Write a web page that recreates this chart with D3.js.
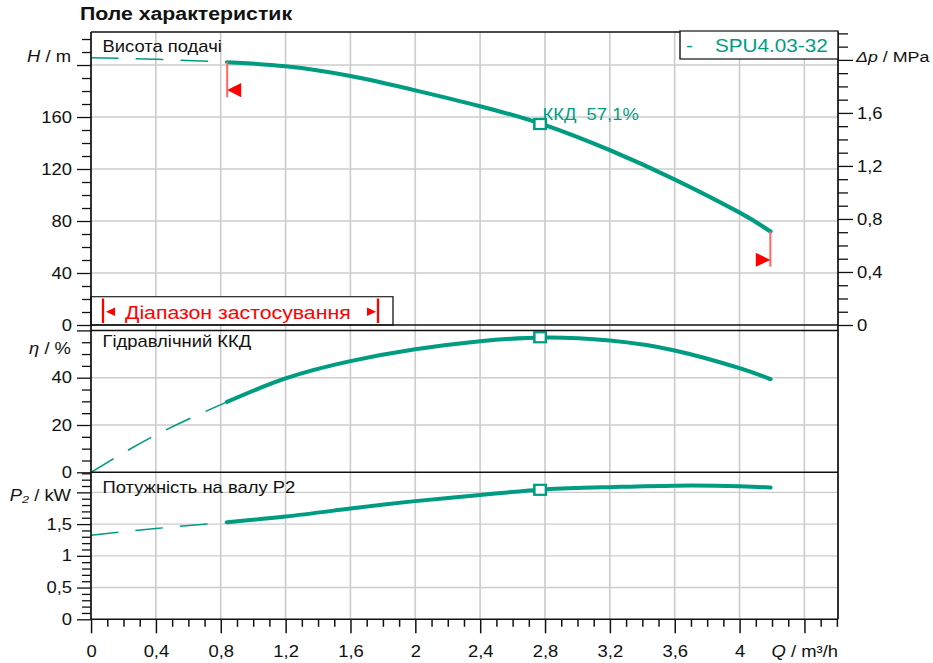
<!DOCTYPE html>
<html><head><meta charset="utf-8">
<script src="https://cdn.jsdelivr.net/npm/d3@7"></script>
<style>
html,body{margin:0;padding:0;background:#fff;}
svg{display:block;font-family:'Liberation Sans',Arial,sans-serif;}
</style></head>
<body>
<svg id="chart" width="933" height="663"></svg>
<script>
// ---------- data ----------
const qSolid = [0.84, 1.2, 1.6, 2.0, 2.4, 2.8, 3.2, 3.6, 4.0, 4.19];
const headSolid = [202.2, 199.0, 191.5, 180.5, 168.3, 153.8, 134.5, 112.0, 86.5, 72.0];
const effSolid = [29.8, 39.7, 47.0, 52.0, 55.4, 57.0, 55.7, 51.5, 44.0, 39.4];
const powSolid = [1.53, 1.62, 1.745, 1.862, 1.96, 2.045, 2.082, 2.105, 2.097, 2.075];
const qDash = [0, 0.4, 0.84];
const headDash = [205.5, 204.4, 202.2];
const effDash = [0, 15.8, 29.8];
const powDash = [1.325, 1.43, 1.53];
const dutyQ = 2.77, dutyH = 154.6, dutyEff = 57.1, dutyPow = 2.04;
const rangeMin = 0.84, rangeMax = 4.19;
const qMajor = [0, 0.4, 0.8, 1.2, 1.6, 2, 2.4, 2.8, 3.2, 3.6, 4, 4.4];
const qLabels = ["0","0,4","0,8","1,2","1,6","2","2,4","2,8","3,2","3,6","4",""];
const hMajor = [0, 40, 80, 120, 160, 200];
const hLabels = ["0","40","80","120","160",""];
const pMajor = [0, 0.4, 0.8, 1.2, 1.6, 2.0];
const pLabels = ["0","0,4","0,8","1,2","1,6",""];
const eMajor = [0, 20, 40, 60];
const eLabels = ["0","20","40",""];
const wMajor = [0, 0.5, 1, 1.5, 2];
const wLabels = ["0","0,5","1","1,5",""];
const legendName = "SPU4.03-32";

// ---------- layout ----------
const K = 1.15;               // horizontal stretch of the reference
const X = v => v / K;
const teal = "#009c82", grid = "#cccccc", red = "#ff0000";
const L = 91, R = 838, T = 32;
const svg = d3.select("#chart");
const g = svg.append("g").attr("transform", `scale(${K},1)`);

const x = d3.scaleLinear([0, 4.6], [X(91), X(836.8)]);
const yH = d3.scaleLinear([0, 225.4], [325, T]);
const yP = d3.scaleLinear([0, 225.4 / 101.97], [325, T]);
const yE = d3.scaleLinear([0, 60], [472.3, 330.4]);
const yW = d3.scaleLinear([0, 2.316], [619.3, 472.3]);

// grid
const gg = g.append("g").attr("stroke", grid).attr("stroke-width", 1.4);
qMajor.slice(1).forEach(q => gg.append("line").attr("x1", x(q)).attr("x2", x(q)).attr("y1", T).attr("y2", 619.3));
const hgrid = (sc, vals) => vals.forEach(v => gg.append("line").attr("x1", X(L)).attr("x2", X(R)).attr("y1", sc(v)).attr("y2", sc(v)));
hgrid(yH, [40, 80, 120, 160, 200]);
hgrid(yE, [20, 40]);
hgrid(yW, [0.5, 1, 1.5, 2]);

// curves
const line = (sc) => d3.line().x(d => x(d[0])).y(d => sc(d[1])).curve(d3.curveNatural);
function curve(qs, vs, sc, dashed) {
  g.append("path").datum(qs.map((q, i) => [q, vs[i]]))
    .attr("d", line(sc)).attr("fill", "none").attr("stroke", teal)
    .attr("stroke-width", dashed ? 1.5 : 4).attr("stroke-linecap", dashed ? "butt" : "round")
    .attr("stroke-dasharray", dashed ? "24,15" : null);
}
curve(qDash, headDash, yH, true);
curve(qSolid, headSolid, yH, false);
curve(qDash, effDash, yE, true);
curve(qSolid, effSolid, yE, false);
curve(qDash, powDash, yW, true);
curve(qSolid, powSolid, yW, false);

// range box
g.append("rect").attr("x", X(L)).attr("y", 296.7).attr("width", X(393) - X(L)).attr("height", 325 - 296.7)
  .attr("fill", "#fff").attr("stroke", "#222").attr("stroke-width", 1.2);
g.append("line").attr("x1", X(103)).attr("x2", X(103)).attr("y1", 298.5).attr("y2", 323).attr("stroke", red).attr("stroke-width", 2);
g.append("path").attr("d", `M${X(106)},311.7L${X(115)},307.5L${X(115)},315.9Z`).attr("fill", red);
g.append("line").attr("x1", X(378)).attr("x2", X(378)).attr("y1", 298.5).attr("y2", 323).attr("stroke", red).attr("stroke-width", 2);
g.append("path").attr("d", `M${X(376)},311.7L${X(367)},307.5L${X(367)},315.9Z`).attr("fill", red);
g.append("text").attr("x", X(125)).attr("y", 319.5).attr("fill", red).attr("font-size", 18.5).text("Діапазон застосування");

// range limit markers on head curve
const hAt = (q) => headSolid[q === rangeMin ? 0 : headSolid.length - 1];
g.append("line").attr("x1", x(rangeMin)).attr("x2", x(rangeMin)).attr("y1", yH(hAt(rangeMin))).attr("y2", 97.3)
  .attr("stroke", "#ff6a6a").attr("stroke-width", 1.8);
g.append("path").attr("d", `M${x(rangeMin)},90L${x(rangeMin) + X(14)},83L${x(rangeMin) + X(14)},97.3Z`).attr("fill", red);
g.append("line").attr("x1", x(rangeMax)).attr("x2", x(rangeMax)).attr("y1", yH(hAt(rangeMax))).attr("y2", 266.7)
  .attr("stroke", "#ff6a6a").attr("stroke-width", 1.8);
g.append("path").attr("d", `M${x(rangeMax)},260L${x(rangeMax) - X(14.5)},252.7L${x(rangeMax) - X(14.5)},266.7Z`).attr("fill", red);

// duty point markers
[[yH, dutyH], [yE, dutyEff], [yW, dutyPow]].forEach(([sc, v]) => {
  g.append("rect").attr("x", x(dutyQ) - 5).attr("y", sc(v) - 5).attr("width", 10).attr("height", 10)
    .attr("fill", "#fff").attr("stroke", teal).attr("stroke-width", 2.2);
});

// frames
const fr = g.append("g").attr("stroke", "#111").attr("stroke-width", 1.5);
[T, 325, 330.4, 472.3, 619.3].forEach(y => fr.append("line").attr("x1", X(L)).attr("x2", X(R)).attr("y1", y).attr("y2", y));
[L, R].forEach(xx => fr.append("line").attr("x1", X(xx)).attr("x2", X(xx)).attr("y1", T).attr("y2", 619.3));

// axes
function styleAxis(sel) {
  sel.select(".domain").remove();
  sel.selectAll("line").attr("stroke", "#111").attr("stroke-width", 1.3);
  sel.selectAll("text").attr("font-size", 16).attr("fill", "#111").attr("font-family", "'Liberation Sans',Arial,sans-serif");
}
function leftAxis(sc, major, labels, minorStep, y0, y1) {
  const minor = d3.range(y0, y1 + 1e-9, minorStep).filter(v => !major.some(m => Math.abs(m - v) < 1e-6));
  g.append("g").attr("transform", `translate(${X(L)},0)`)
    .call(d3.axisLeft(sc).tickValues(minor).tickSize(X(9)).tickFormat("")).call(styleAxis);
  g.append("g").attr("transform", `translate(${X(L)},0)`)
    .call(d3.axisLeft(sc).tickValues(major).tickSize(X(14)).tickPadding(X(5)).tickFormat((d, i) => labels[i])).call(styleAxis);
}
leftAxis(yH, hMajor, hLabels, 10, 0, 220);
leftAxis(yE, eMajor, eLabels, 5, 0, 60);
leftAxis(yW, wMajor, wLabels, 0.1, 0, 2.3);

// right axis (pressure)
{
  const minor = d3.range(0, 2.201, 0.1).filter(v => !pMajor.some(m => Math.abs(m - v) < 1e-6));
  g.append("g").attr("transform", `translate(${X(R)},0)`)
    .call(d3.axisRight(yP).tickValues(minor).tickSize(X(10)).tickFormat("")).call(styleAxis);
  g.append("g").attr("transform", `translate(${X(R)},0)`)
    .call(d3.axisRight(yP).tickValues(pMajor).tickSize(X(15)).tickPadding(X(4)).tickFormat((d, i) => pLabels[i])).call(styleAxis);
}
// bottom axis
{
  const minor = d3.range(0, 4.601, 0.1).filter(v => !qMajor.some(m => Math.abs(m - v) < 1e-6));
  g.append("g").attr("transform", `translate(0,619.3)`)
    .call(d3.axisBottom(x).tickValues(minor).tickSize(7.5).tickFormat("")).call(styleAxis);
  g.append("g").attr("transform", `translate(0,619.3)`)
    .call(d3.axisBottom(x).tickValues(qMajor).tickSize(14).tickPadding(12).tickFormat((d, i) => qLabels[i])).call(styleAxis);
}

// axis titles
function axTitle(xx, y, anchor, parts, size) {
  const t = g.append("text").attr("x", X(xx)).attr("y", y).attr("text-anchor", anchor).attr("font-size", size || 16).attr("fill", "#111")
    .style("white-space", "pre");
  parts.forEach(p => t.append("tspan").attr("font-style", p[1] ? "italic" : "normal").text(p[0]));
}
axTitle(71, 62, "end", [["H", true], [" / m", false]]);
axTitle(71, 354, "end", [["η", true], [" / %", false]]);
axTitle(71, 501.5, "end", [["P₂", true], [" / kW", false]]);
axTitle(856, 62, "start", [["Δp", true], [" / MPa", false]], 15.5);
axTitle(838, 657, "end", [["Q", true], [" / m³/h", false]]);

// title and labels
g.append("text").attr("x", X(80)).attr("y", 20).attr("font-weight", "bold").attr("font-size", 18.5).attr("fill", "#111").text("Поле характеристик");
g.append("text").attr("x", X(102.5)).attr("y", 51.7).attr("font-size", 16).attr("fill", "#111").text("Висота подачі");
g.append("text").attr("x", X(102.5)).attr("y", 346.7).attr("font-size", 16).attr("fill", "#111").text("Гідравлічний ККД");
g.append("text").attr("x", X(102.5)).attr("y", 493.3).attr("font-size", 16).attr("fill", "#111").text("Потужність на валу P2");
g.append("text").attr("x", X(542.5)).attr("y", 120.5).attr("font-size", 16).attr("fill", teal)
  .style("white-space", "pre").text(`ККД  ${String(dutyEff).replace(".", ",")}%`);

// legend
g.append("rect").attr("x", X(680)).attr("y", 31).attr("width", X(R) - X(680)).attr("height", 28)
  .attr("fill", "#fff").attr("stroke", "#111").attr("stroke-width", 1.2);
g.append("text").attr("x", X(686)).attr("y", 52).attr("font-size", 18).attr("fill", teal).text("-");
g.append("text").attr("x", X(715)).attr("y", 52).attr("font-size", 18).attr("fill", teal).text(legendName);
</script>
</body></html>
